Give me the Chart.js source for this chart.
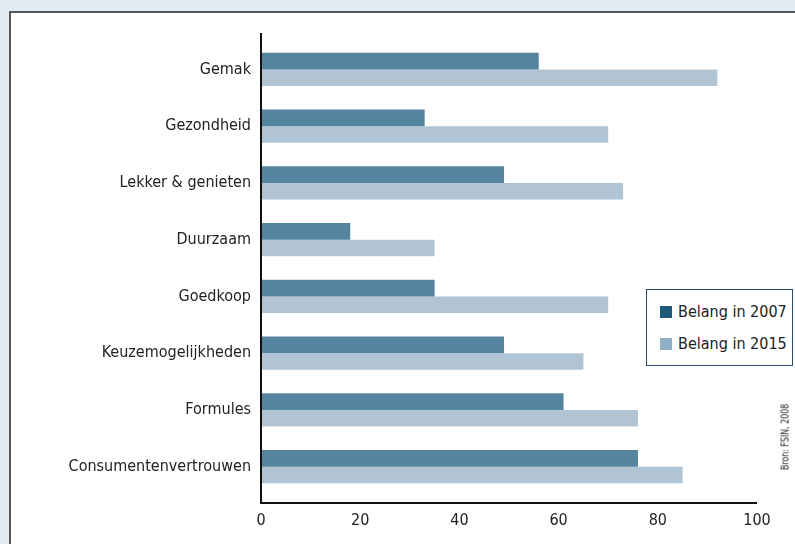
<!DOCTYPE html>
<html>
<head>
<meta charset="utf-8">
<script src="https://cdn.jsdelivr.net/npm/chart.js@4/dist/chart.umd.min.js"></script>
<style>
  html, body { margin: 0; padding: 0; }
  body { width: 795px; height: 544px; background: #e2edf3; position: relative; overflow: hidden;
         font-family: 'DejaVu Sans Condensed', 'Liberation Sans', sans-serif; }
  #panel { position: absolute; left: 9px; top: 11px; right: 0; bottom: 0; background: #fff;
           border-top: 2px solid #555; border-left: 2px solid #555; }
  #wrap { position: absolute; left: 0; top: 0; width: 795px; height: 544px; }
  #legend { position: absolute; left: 646px; top: 289px; width: 147px; height: 77px;
            border: 1px solid #2b4a6e; background: #fff; box-sizing: border-box; }
  #legend div { position: absolute; left: 13px; font-size: 16px; color: #222; line-height: 20px; white-space: nowrap; }
  #legend span { display: inline-block; width: 12px; height: 12px; margin-right: 6px; vertical-align: -1px; }
  #bron { position: absolute; left: 785px; top: 437px; font-size: 10px; color: #222; white-space: nowrap;
          transform: translate(-50%, -50%) rotate(-90deg) scaleX(0.88); }
</style>
</head>
<body>
<div id="panel"></div>
<div id="wrap"><canvas id="c" width="795" height="544"></canvas></div>
<div id="legend"></div>
<div id="bron">Bron: FSIN, 2008</div>
<script>
const categories = ['Gemak', 'Gezondheid', 'Lekker & genieten', 'Duurzaam', 'Goedkoop',
                    'Keuzemogelijkheden', 'Formules', 'Consumentenvertrouwen'];
const belang2007 = [56, 33, 49, 18, 35, 49, 61, 76];
const belang2015 = [92, 70, 73, 35, 70, 65, 76, 85];
const xTicks = [0, 20, 40, 60, 80, 100];

const font = { family: "'DejaVu Sans Condensed', 'Liberation Sans', sans-serif", size: 16 };

// axis lines stick out a bit beyond the plot area
const axisLines = {
    id: 'axisLines',
    afterDraw(chart) {
        const a = chart.chartArea, c = chart.ctx;
        c.save();
        c.strokeStyle = '#111';
        c.lineWidth = 2;
        c.beginPath();
        c.moveTo(a.left, a.top - 8);
        c.lineTo(a.left, a.bottom + 8);
        c.lineTo(a.right, a.bottom + 8);
        c.stroke();
        c.restore();
    }
};

const chart = new Chart(document.getElementById('c'), {
    type: 'bar',
    data: {
        labels: categories,
        datasets: [
            { label: 'Belang in 2007', data: belang2007, backgroundColor: '#55849e', legendColor: '#1e5a78' },
            { label: 'Belang in 2015', data: belang2015, backgroundColor: '#b0c4d4', legendColor: '#8fb0c4' }
        ]
    },
    options: {
        indexAxis: 'y',
        responsive: false,
        animation: false,
        layout: { padding: { left: 0, right: 38, top: 41, bottom: 0 } },
        datasets: { bar: { categoryPercentage: 0.59, barPercentage: 1.0 } },
        plugins: { legend: { display: false }, tooltip: { enabled: false } },
        scales: {
            x: {
                min: 0, max: 100,
                afterBuildTicks: s => { s.ticks = xTicks.map(v => ({ value: v })); },
                afterFit: s => { s.height = 49; },
                grid: { display: false, drawTicks: false },
                border: { display: false },
                ticks: { font: font, color: '#222', padding: 16 }
            },
            y: {
                afterFit: s => { s.width = 261; },
                grid: { display: false, drawTicks: false },
                border: { display: false },
                ticks: { font: font, color: '#222', padding: 10 }
            }
        }
    },
    plugins: [axisLines]
});

const leg = document.getElementById('legend');
chart.data.datasets.forEach((ds, i) => {
    const d = document.createElement('div');
    d.style.top = (12 + i * 32) + 'px';
    d.innerHTML = '<span style="background:' + ds.legendColor + '"></span>' + ds.label;
    leg.appendChild(d);
});
</script>
</body>
</html>
